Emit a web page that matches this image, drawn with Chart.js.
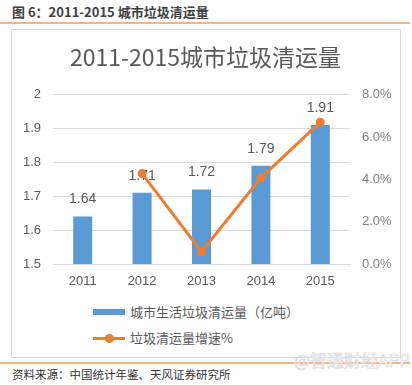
<!DOCTYPE html>
<html>
<head>
<meta charset="utf-8">
<script src="https://cdn.jsdelivr.net/npm/chart.js@4"></script>
<style>
  body { margin: 0; width: 412px; height: 385px; background: #fff; position: relative; overflow: hidden;
         font-family: "Noto Sans CJK SC", "Liberation Sans", sans-serif; }
  .head { position: absolute; left: 12px; top: 2px; font-size: 13px; font-weight: bold; color: #404040; white-space: nowrap; }
  .rule { position: absolute; left: 0; width: 410px; height: 1.5px; background: #f5b47c; }
  .box { position: absolute; left: 11px; top: 29px; width: 388px; height: 327px; border: 1px solid #d9d9d9; }
  .chart-wrap { position: absolute; left: 11px; top: 29px; width: 389px; height: 270px; }
  .legend { position: absolute; left: 93px; top: 300px; color: #595959; font-size: 13px; }
  .legend .row { position: relative; height: 26px; line-height: 24px; padding-left: 37px; white-space: nowrap; }
  .legend .bar { position: absolute; left: 0; top: 9px; width: 32px; height: 6px; background: #5b9bd5; }
  .legend .ln { position: absolute; left: 0; top: 11px; width: 32px; height: 3px; background: #ed7d31; }
  .legend .dot { position: absolute; left: 12px; top: 8px; width: 9px; height: 9px; border-radius: 50%; background: #ed7d31; }
  .foot { position: absolute; left: 12px; top: 366px; font-size: 11.5px; color: #333; white-space: nowrap; }
  .mark { position: absolute; left: 294px; top: 347px; font-size: 17px; color: #fff; white-space: nowrap;
          -webkit-text-stroke: 0.6px #d4d4d4; }
</style>
</head>
<body>
<div class="head">图 6：2011-2015 城市垃圾清运量</div>
<div class="rule" style="top:22px"></div>
<div class="box"></div>
<div class="chart-wrap"><canvas id="wasteChart"></canvas></div>
<div class="legend" id="legend"></div>
<div class="rule" style="top:362px"></div>
<div class="foot">资料来源：中国统计年鉴、天风证券研究所</div>
<div class="mark">@智通财经APP</div>

<script>
// 数据
const years = ['2011', '2012', '2013', '2014', '2015'];
const volume = [1.64, 1.71, 1.72, 1.79, 1.91];        // 城市生活垃圾清运量（亿吨）
const growth = [null, 4.27, 0.58, 4.07, 6.70];        // 垃圾清运量增速%
const leftTicks = [1.5, 1.6, 1.7, 1.8, 1.9, 2];
const rightTicks = [0, 2, 4, 6, 8];

const textGray = '#595959';
const tickFont = { family: "'Liberation Sans', 'Noto Sans CJK SC'", size: 13 };

// 柱顶数值标签，画在折线之前
const barLabels = {
    id: 'barLabels',
    afterDatasetDraw(chart, args) {
        if (args.index !== 0) return;
        const ctx = chart.ctx;
        ctx.save();
        ctx.fillStyle = textGray;
        ctx.font = "14px 'Liberation Sans', 'Noto Sans CJK SC'";
        ctx.textAlign = 'center';
        ctx.textBaseline = 'middle';
        args.meta.data.forEach((bar, i) => {
            ctx.fillText(volume[i].toFixed(2), bar.x, bar.y - 17);
        });
        ctx.restore();
    }
};

const chart = new Chart(document.getElementById('wasteChart'), {
    type: 'bar',
    data: {
        labels: years,
        datasets: [{
            label: '城市生活垃圾清运量（亿吨）',
            data: volume,
            backgroundColor: '#5b9bd5',
            yAxisID: 'y',
            categoryPercentage: 1,
            barPercentage: 0.32,
            order: 1
        }, {
            type: 'line',
            label: '垃圾清运量增速%',
            data: growth,
            borderColor: '#ed7d31',
            backgroundColor: '#ed7d31',
            borderWidth: 3,
            pointRadius: 4.5,
            pointBorderWidth: 0,
            tension: 0,
            yAxisID: 'y1',
            order: 0
        }]
    },
    options: {
        responsive: true,
        maintainAspectRatio: false,
        animation: false,
        layout: { padding: 0 },
        plugins: {
            legend: { display: false },
            tooltip: { enabled: false },
            title: {
                display: true,
                text: '2011-2015城市垃圾清运量',
                color: textGray,
                font: { family: "'Noto Sans CJK SC'", size: 23, weight: 'normal' },
                padding: { top: 14, bottom: 24 }
            }
        },
        scales: {
            x: {
                grid: { display: false, drawTicks: false },
                border: { color: '#d9d9d9' },
                ticks: { color: textGray, font: tickFont, padding: 10 },
                afterFit(s) { s.height = 35; }
            },
            y: {
                position: 'left',
                min: 1.5, max: 2,
                afterBuildTicks(s) { s.ticks = leftTicks.map(v => ({ value: v })); },
                grid: { color: '#d9d9d9', drawTicks: false },
                border: { display: false },
                ticks: { color: textGray, font: tickFont, padding: 12, callback: v => String(v) },
                afterFit(s) { s.width = 42; }
            },
            y1: {
                position: 'right',
                min: 0, max: 8,
                afterBuildTicks(s) { s.ticks = rightTicks.map(v => ({ value: v })); },
                grid: { display: false, drawTicks: false },
                border: { display: false },
                ticks: { color: '#7f7f7f', font: tickFont, padding: 12, callback: v => v.toFixed(1) + '%' },
                afterFit(s) { s.width = 50; }
            }
        }
    },
    plugins: [barLabels]
});

// 图例（竖排）
const legendEl = document.getElementById('legend');
chart.data.datasets.forEach(ds => {
    const row = document.createElement('div');
    row.className = 'row';
    row.innerHTML = ds.type === 'line'
        ? '<span class="ln"></span><span class="dot"></span>'
        : '<span class="bar"></span>';
    row.appendChild(document.createTextNode(ds.label));
    legendEl.appendChild(row);
});
</script>
</body>
</html>
